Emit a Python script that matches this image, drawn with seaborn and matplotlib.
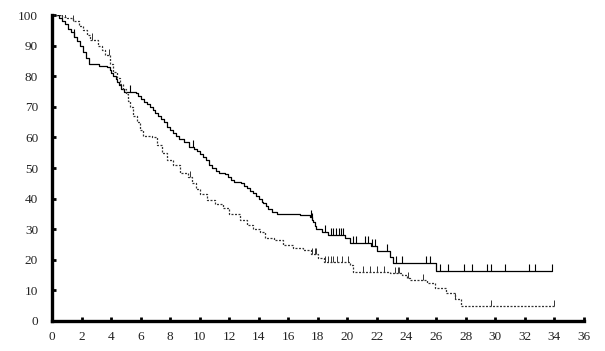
import numpy as np
import matplotlib
matplotlib.use("Agg")
import matplotlib.pyplot as plt
import seaborn as sns

sns.set_style("ticks")
plt.rcParams['font.family'] = ['Liberation Serif', 'DejaVu Serif']

# Group 1 (solid) step curve: time (months), survival (%)
solid_t = [0, 0.5, 0.7, 0.9, 1.1, 1.3, 1.5, 1.7, 1.9, 2.1, 2.3, 2.5, 3.2, 3.7,
           3.9, 4.0, 4.15, 4.3, 4.4, 4.5, 4.7, 4.9, 5.7, 5.85, 6.0, 6.2, 6.4,
           6.6, 6.85, 7.0, 7.2, 7.4, 7.6, 7.8, 8.0, 8.2, 8.4, 8.6, 8.9, 9.3,
           9.6, 9.8, 10.0, 10.2, 10.4, 10.6, 10.8, 11.1, 11.3, 11.7, 11.9,
           12.1, 12.3, 12.8, 13.0, 13.2, 13.4, 13.6, 13.8, 14.0, 14.2, 14.3,
           14.5, 14.6, 14.9, 15.2, 16.8, 17.45, 17.6, 17.7, 17.8, 17.9, 18.25,
           18.7, 19.8, 20.2, 21.6, 21.97, 22.87, 23.1, 26.0, 33.85]
solid_s = [100, 99, 98, 97, 95.5, 94.5, 93, 91.5, 90, 88, 86, 84, 83.5, 83,
           82, 81, 80, 79, 78, 77, 76, 75, 74.5, 73.5, 72.5, 71.5, 71,
           70, 69, 68, 67, 66, 65, 63.5, 62.5, 61.5, 60.5, 59.5, 58.5, 57,
           56.3, 55.5, 54.7, 53.5, 52.5, 51, 50, 49, 48.5, 48, 47,
           46, 45.5, 45, 44, 43.5, 42.5, 42, 41, 40, 39, 38.5,
           37.5, 36.5, 35.5, 35, 34.5, 34, 33, 32.4, 31, 30.2, 29,
           28, 27, 25.5, 24.5, 23, 21, 19, 16.4, 16.4]
solid_cens = [1.5, 5.3, 9.56, 17.55, 17.62, 18.5, 18.9, 19.05, 19.2, 19.4, 19.55,
              19.7, 20.4, 20.6, 21.2, 21.4, 21.65, 21.85, 22.7, 23.27, 23.7,
              25.3, 25.6, 26.25, 26.8, 27.9, 28.4, 29.45, 29.7, 30.65, 32.3,
              32.7, 33.85]

# Group 2 (dashed) step curve
dash_t = [0, 0.65, 1.0, 1.44, 1.8, 2.1, 2.4, 2.6, 3.1, 3.4, 3.6, 3.9, 4.15,
          4.4, 4.6, 4.8, 5.0, 5.16, 5.3, 5.5, 5.75, 5.95, 6.18, 6.75, 7.08,
          7.42, 7.76, 8.2, 8.66, 9.22, 9.45, 9.75, 10.0, 10.47, 11.0, 11.6,
          12.0, 12.7, 13.2, 13.6, 14.1, 14.4, 15.0, 15.65, 16.3, 17.0, 17.5,
          18.0, 18.4, 20.16, 20.4, 22.9, 23.66, 24.0, 24.2, 25.35, 25.9, 26.7,
          27.3, 27.7, 34.0]
dash_s = [100, 99.5, 99, 98, 96.5, 95, 93.5, 92, 90, 88.5, 86.8, 84, 81.5,
          79.5, 77.5, 76, 74.3, 72, 70, 67, 65, 62.5, 60.5, 60, 57.5,
          55, 52.5, 51, 48.5, 47, 45, 43, 41.5, 39.5, 38.4, 37,
          35, 33, 31.5, 30.2, 29, 27, 26.4, 25, 24, 23.2, 22,
          20.5, 19.2, 18.3, 16.1, 15.6, 15, 14, 13.5, 12.3, 10.7, 9,
          7.1, 4.8, 4.8]
dash_cens = [0.65, 0.88, 1.44, 2.68, 3.86, 9.34, 17.6, 17.8, 17.9, 18.5, 18.7,
             18.9, 19.05, 19.3, 19.6, 20.05, 21.07, 21.5, 21.97, 22.5, 23.2,
             23.4, 23.5, 24.1, 25.1, 27.3, 29.7, 34.0]

x_ticks = list(range(0, 37, 2))
y_ticks = list(range(0, 101, 10))


def step_value(t, s, when):
    t = np.asarray(t)
    s = np.asarray(s)
    idx = np.searchsorted(t, when, side='right') - 1
    return s[np.clip(idx, 0, len(s) - 1)]


fig = plt.figure(figsize=(6.05, 3.51), dpi=100)
ax = fig.add_axes([0.086, 0.0855, 0.879, 0.8715])

sns.lineplot(x=solid_t, y=solid_s, ax=ax, drawstyle='steps-post',
             estimator=None, color='black', linewidth=0.9)
sns.lineplot(x=dash_t, y=dash_s, ax=ax, drawstyle='steps-post',
             estimator=None, color='#333333', linewidth=0.9,
             dashes=False, linestyle=(0, (1.6, 1.2)))

# censoring ticks pointing up from the curve
sc = step_value(solid_t, solid_s, solid_cens)
ax.vlines(solid_cens, sc, sc + 2.3, color='black', linewidth=0.8)
dc = step_value(dash_t, dash_s, dash_cens)
ax.vlines(dash_cens, dc, dc + 2.0, color='#333333', linewidth=0.7)

ax.set_xlim(0, 36)
ax.set_ylim(0, 100)
ax.set_xticks(x_ticks)
ax.set_yticks(y_ticks)
ax.set_xlabel('')
ax.set_ylabel('')

sns.despine(ax=ax)
for side in ['left', 'bottom']:
    ax.spines[side].set_linewidth(2.4)
    ax.spines[side].set_color('black')
ax.tick_params(axis='both', direction='in', length=3, width=2,
               color='black', labelsize=9.5, labelcolor='#222222')
ax.tick_params(axis='y', pad=10)
ax.tick_params(axis='x', pad=7)

fig.savefig('out.png', dpi=100)
